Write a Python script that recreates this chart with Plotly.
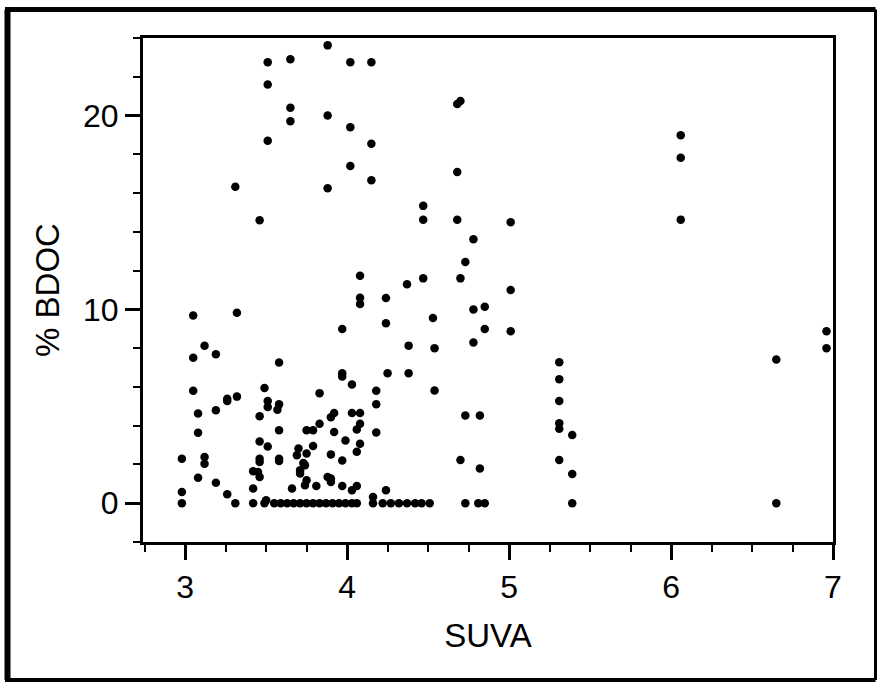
import plotly.graph_objects as go

# ---- data ----
suva_upper = [3.88, 3.51, 3.65, 4.02, 4.15, 3.51, 3.65, 3.65, 3.88, 4.02, 3.51, 4.15,
              4.02, 4.15, 3.31, 3.88, 3.46, 4.08]
bdoc_upper = [23.62, 22.75, 22.9, 22.75, 22.75, 21.6, 20.4, 19.7, 20.0, 19.4, 18.7, 18.55,
              17.4, 16.66, 16.33, 16.25, 14.6, 11.73]

suva_mid = [4.68, 4.70, 6.06, 6.06, 4.68, 4.47, 4.47, 4.68, 5.01, 6.06, 4.78,
            4.73, 4.47, 4.37, 4.70, 5.01, 4.08, 4.08, 4.24, 4.78, 4.85, 4.53, 3.97,
            4.24, 4.85, 5.01, 4.78, 4.38, 4.54, 3.97, 3.97, 4.25, 4.38, 4.03, 4.18,
            4.54, 4.18, 3.92, 4.03, 4.08, 4.73, 4.82, 4.08, 4.06, 3.92, 4.18, 3.99,
            4.08, 3.90, 4.06, 3.97, 4.70, 4.82, 3.90, 3.90, 3.97, 4.06, 4.03, 4.24, 4.16]
bdoc_mid = [20.6, 20.75, 18.98, 17.82, 17.09, 15.34, 14.62, 14.62, 14.5, 14.63, 13.62,
            12.45, 11.6, 11.3, 11.6, 11.0, 10.6, 10.28, 10.59, 10.0, 10.14, 9.56, 8.99,
            9.28, 8.99, 8.87, 8.29, 8.13, 8.0, 6.71, 6.54, 6.71, 6.71, 6.12, 5.8,
            5.82, 5.11, 4.65, 4.65, 4.65, 4.53, 4.53, 4.1, 3.81, 3.67, 3.65, 3.24,
            3.07, 2.52, 2.66, 2.21, 2.23, 1.79, 1.27, 1.1, 0.89, 0.89, 0.67, 0.67, 0.32]

suva_low = [3.05, 3.32, 3.12, 3.05, 3.19, 3.58, 3.05, 3.49, 3.26, 3.26, 3.32, 3.51,
            3.51, 3.58, 3.57, 3.83, 3.08, 3.19, 3.46, 3.90, 3.08, 3.58, 3.75, 3.79,
            3.83, 3.46, 3.51, 3.79, 2.98, 3.12, 3.12, 3.46, 3.46, 3.58, 3.58, 3.70,
            3.69, 3.75, 3.73, 3.74, 3.71, 3.71, 3.08, 3.19, 3.42, 3.45, 3.46, 3.75,
            3.74, 3.81, 3.88, 2.98, 3.42, 3.66, 3.26, 3.50]
bdoc_low = [9.68, 9.83, 8.12, 7.51, 7.69, 7.26, 5.80, 5.95, 5.39, 5.27, 5.5, 5.27,
            4.96, 5.1, 4.82, 5.68, 4.63, 4.8, 4.49, 4.44, 3.64, 3.77, 3.77, 3.77,
            4.1, 3.19, 2.93, 2.95, 2.3, 2.38, 2.04, 2.3, 2.13, 2.3, 2.18, 2.82,
            2.47, 2.56, 2.07, 1.96, 1.70, 1.53, 1.32, 1.06, 1.65, 1.61, 1.35, 1.18,
            0.93, 0.89, 1.35, 0.58, 0.76, 0.76, 0.46, 0.15]

suva_zero = [2.98, 3.31, 3.42, 3.49, 3.55, 3.59, 3.63, 3.67, 3.71, 3.75, 3.79, 3.83,
             3.87, 3.91, 3.95, 3.99, 4.03, 4.06, 4.16, 4.22, 4.27, 4.32, 4.37, 4.42,
             4.46, 4.51, 4.73, 4.81, 4.85, 5.39, 6.65]
bdoc_zero = [0.0] * len(suva_zero)

suva_right = [5.31, 5.31, 5.31, 5.31, 5.31, 5.39, 5.31, 5.39, 6.65, 6.96, 6.96]
bdoc_right = [7.27, 6.4, 5.27, 4.13, 3.84, 3.52, 2.23, 1.51, 7.41, 8.87, 7.99]

suva = suva_upper + suva_mid + suva_low + suva_zero + suva_right
bdoc = bdoc_upper + bdoc_mid + bdoc_low + bdoc_zero + bdoc_right

x_ticks = [3, 4, 5, 6, 7]
y_ticks = [0, 10, 20]

# ---- figure ----
W, H = 877, 684
L, R, T, B = 143, 44, 38, 142
pw, ph = W - L - R, H - T - B

fig = go.Figure(go.Scatter(
    x=suva, y=bdoc, mode="markers",
    marker=dict(color="black", size=8.5, line=dict(width=0)),
    hoverinfo="x+y", showlegend=False,
))

fam = "Liberation Sans, Arial, sans-serif"
tick_font = dict(family=fam, size=32, color="black")
title_font = dict(family=fam, size=33, color="black")

fig.update_layout(
    width=W, height=H,
    margin=dict(l=L, r=R, t=T, b=B, pad=0),
    paper_bgcolor="white", plot_bgcolor="white",
    font=tick_font,
    xaxis=dict(
        range=[2.74, 7.0], tickmode="array", tickvals=x_ticks,
        ticktext=[str(v) for v in x_ticks],
        ticks="outside", ticklen=15, tickwidth=3, tickcolor="black",
        showline=True, linecolor="black", linewidth=3, mirror=True,
        showgrid=False, zeroline=False,
        minor=dict(dtick=0.25, tick0=0, ticks="outside", ticklen=7,
                   tickwidth=2, tickcolor="black", showgrid=False),
        title=dict(text="SUVA", font=title_font, standoff=20),
        tickfont=tick_font,
    ),
    yaxis=dict(
        range=[-2.0, 24.0], tickmode="array", tickvals=y_ticks,
        ticktext=[str(v) for v in y_ticks],
        ticks="outside", ticklen=15, tickwidth=3, tickcolor="black",
        showline=True, linecolor="black", linewidth=3, mirror=True,
        showgrid=False, zeroline=False,
        minor=dict(dtick=2, tick0=0, ticks="outside", ticklen=7,
                   tickwidth=2, tickcolor="black", showgrid=False),
        title=dict(text="% BDOC", font=title_font, standoff=14),
        tickfont=tick_font,
    ),
)

# outer decorative frame (pixel -> paper fractions)
def px(xp):
    return (xp - L) / pw

def py(yp):
    return 1 - (yp - T) / ph

frame = [
    (px(7.5), py(9.5), px(7.5), py(680), 6),     # left
    (px(5), py(9.5), px(875.5), py(9.5), 5),     # top
    (px(875.5), py(9.5), px(875.5), py(680), 3), # right
    (px(5), py(680), px(875.5), py(680), 4),     # bottom
]
for x0, y0, x1, y1, w in frame:
    fig.add_shape(type="line", xref="paper", yref="paper",
                  x0=x0, y0=y0, x1=x1, y1=y1,
                  line=dict(color="black", width=w), layer="above")

fig.write_html("out.html")
